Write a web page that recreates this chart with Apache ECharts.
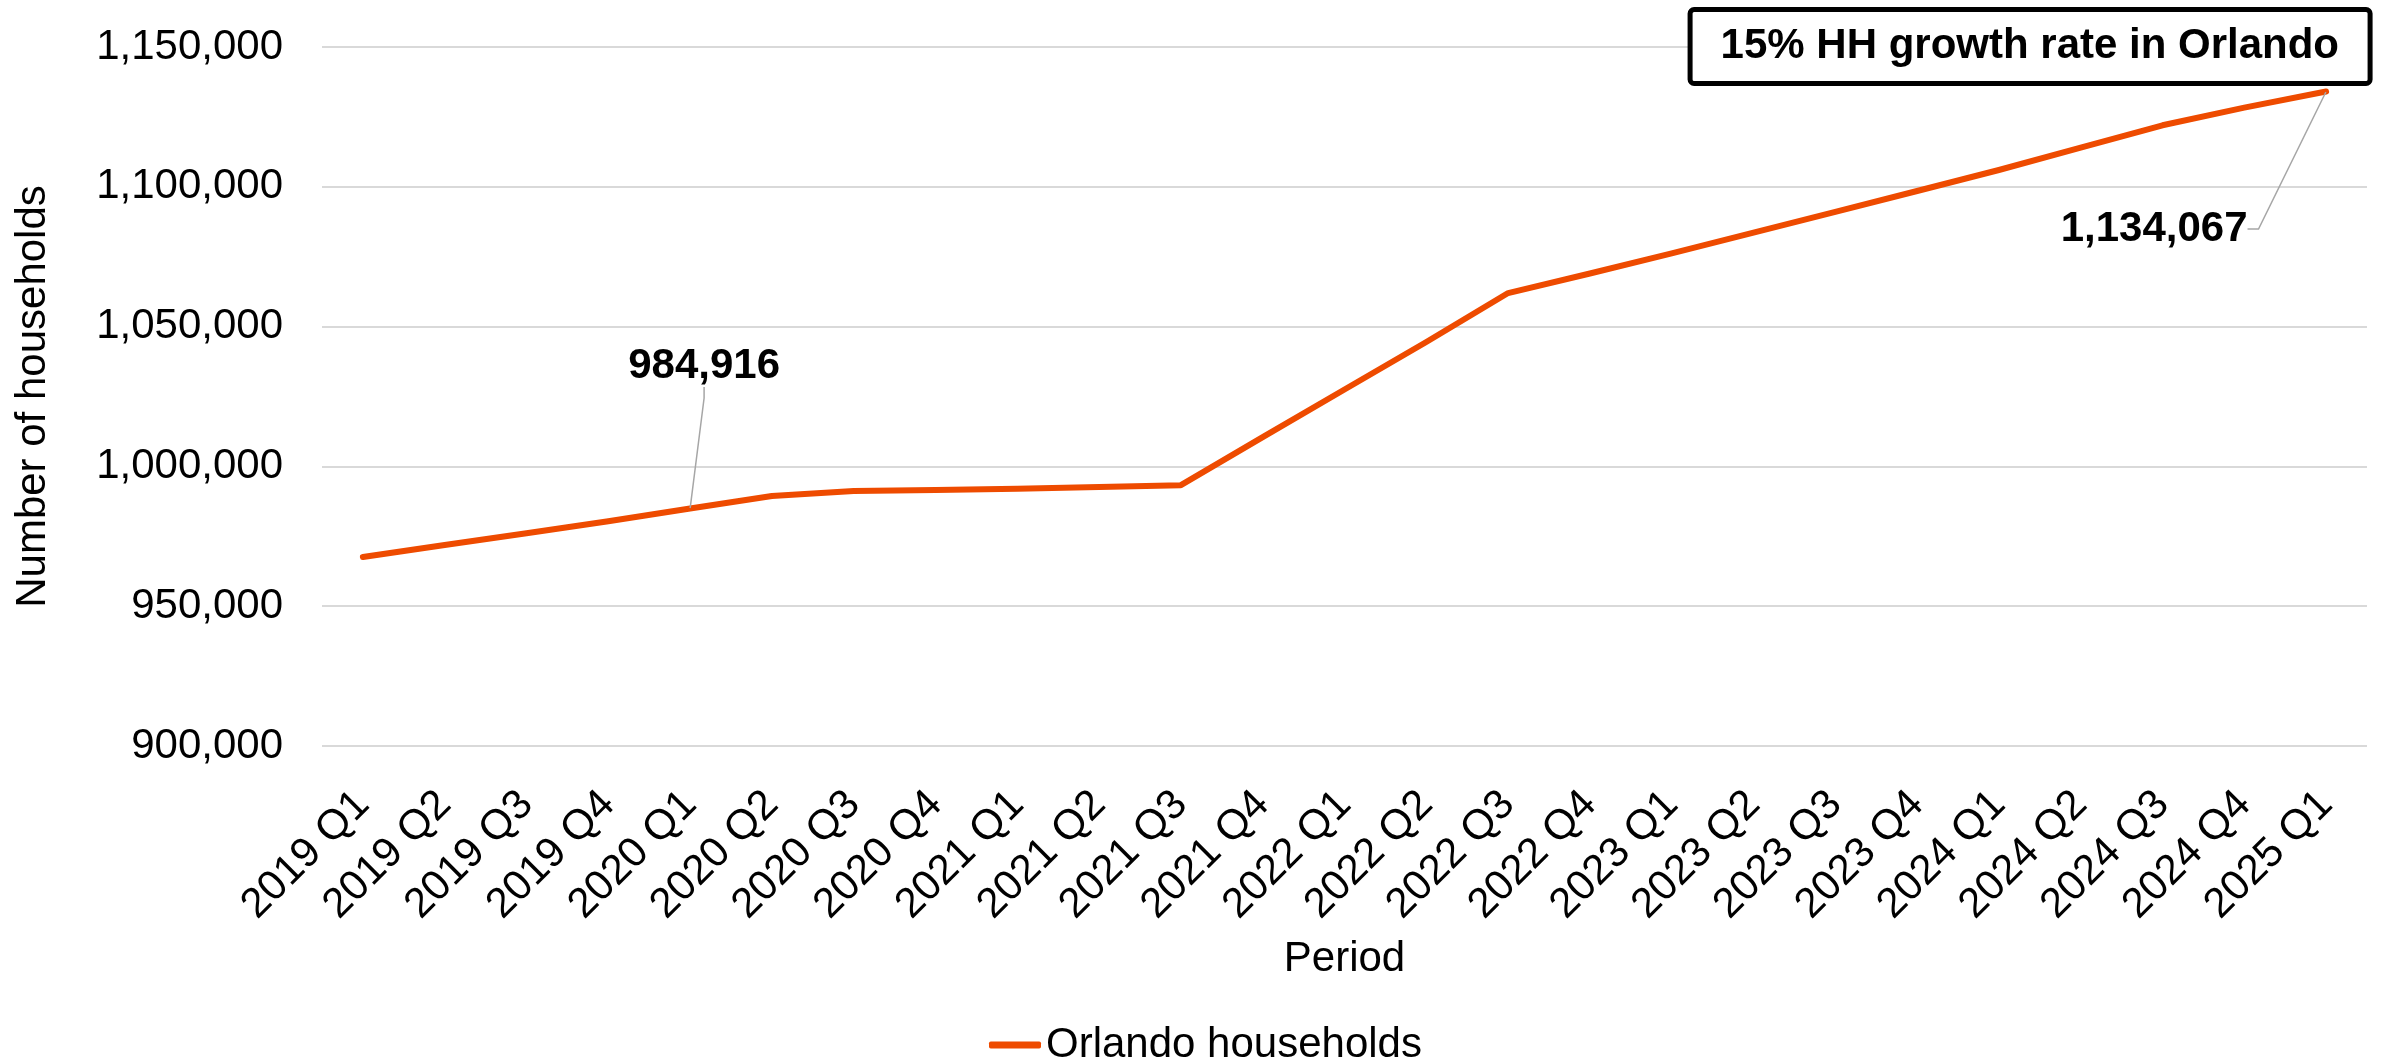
<!DOCTYPE html>
<html>
<head>
<meta charset="utf-8">
<title>Orlando households</title>
<script src="https://cdn.jsdelivr.net/npm/echarts@6/dist/echarts.min.js"></script>
<style>
  html, body { margin: 0; padding: 0; background: #fff; }
  #chart { width: 2392px; height: 1061px; }
</style>
</head>
<body>
<div id="chart"></div>
<script>
// Quarterly household counts for Orlando
const periods = [
  '2019 Q1', '2019 Q2', '2019 Q3', '2019 Q4',
  '2020 Q1', '2020 Q2', '2020 Q3', '2020 Q4',
  '2021 Q1', '2021 Q2', '2021 Q3', '2021 Q4',
  '2022 Q1', '2022 Q2', '2022 Q3', '2022 Q4',
  '2023 Q1', '2023 Q2', '2023 Q3', '2023 Q4',
  '2024 Q1', '2024 Q2', '2024 Q3', '2024 Q4',
  '2025 Q1'
];
const households = [
  967600, 971900, 976100, 980400,
  984916, 989400, 991200, 991600,
  992000, 992600, 993300, 1010500,
  1027500, 1044500, 1062000, 1069000,
  1076200, 1083600, 1091000, 1098500,
  1106000, 1114000, 1122000, 1128300,
  1134067
];
// Points whose value is called out on the chart
const calloutIndices = [4, 24];
const yTicks = { min: 900000, max: 1150000, step: 50000 };
const seriesName = 'Orlando households';
const headline = '15% HH growth rate in Orlando';

const FONT = '"Liberation Sans", Arial, Helvetica, sans-serif';
const LINE_COLOR = '#EE4B00';
const fmt = v => Number(v).toLocaleString('en-US');

// Offsets that move each callout label away from its point
const calloutShift = { 4: { dx: 14, dy: -116 }, 24: { dx: -172, dy: 164 } };

const seriesData = households.map((v, i) => {
  const item = { value: v };
  if (calloutIndices.includes(i)) {
    item.label = { show: true };
  }
  return item;
});

const chart = echarts.init(document.getElementById('chart'), null, { renderer: 'canvas' });

chart.setOption({
  backgroundColor: '#ffffff',
  animation: false,
  textStyle: { fontFamily: FONT },
  title: {
    text: headline,
    right: 22,
    top: 9,
    padding: [14, 31],
    borderColor: '#000000',
    borderWidth: 5,
    borderRadius: 4,
    backgroundColor: '#ffffff',
    textStyle: {
      fontFamily: FONT,
      fontSize: 42,
      fontWeight: 'bold',
      color: '#000000',
      lineHeight: 47
    }
  },
  legend: {
    data: [seriesName],
    left: 984,
    top: 1019,
    icon: 'roundRect',
    itemWidth: 52,
    itemHeight: 7,
    textStyle: { fontFamily: FONT, fontSize: 42, color: '#000000' }
  },
  grid: {
    left: 322,
    right: 25,
    top: 47,
    bottom: 315,
    containLabel: false
  },
  xAxis: {
    type: 'category',
    data: periods,
    boundaryGap: true,
    name: 'Period',
    nameLocation: 'middle',
    nameGap: 192,
    nameTextStyle: { fontFamily: FONT, fontSize: 42, color: '#000000' },
    axisLine: { show: false },
    axisTick: { show: false },
    axisLabel: {
      rotate: 45,
      interval: 0,
      margin: 52,
      fontFamily: FONT,
      fontSize: 42,
      color: '#000000'
    },
    splitLine: { show: false }
  },
  yAxis: {
    type: 'value',
    min: yTicks.min,
    max: yTicks.max,
    interval: yTicks.step,
    name: 'Number of households',
    nameLocation: 'middle',
    nameGap: 268,
    nameTextStyle: { fontFamily: FONT, fontSize: 42, color: '#000000' },
    axisLine: { show: false },
    axisTick: { show: false },
    axisLabel: {
      margin: 39,
      fontFamily: FONT,
      fontSize: 42,
      color: '#000000',
      formatter: v => fmt(v)
    },
    splitLine: { show: true, lineStyle: { color: '#D9D9D9', width: 2 } }
  },
  series: [{
    name: seriesName,
    type: 'line',
    data: seriesData,
    showSymbol: true,
    symbol: 'circle',
    symbolSize: 1,
    itemStyle: { color: LINE_COLOR },
    lineStyle: { color: LINE_COLOR, width: 6, cap: 'round', join: 'round' },
    label: {
      show: false,
      position: 'top',
      fontFamily: FONT,
      fontSize: 42,
      fontWeight: 'bold',
      color: '#000000',
      formatter: p => fmt(p.value)
    },
    labelLine: {
      show: true,
      length2: 11,
      lineStyle: { color: '#A6A6A6', width: 1.5 }
    },
    labelLayout: params => calloutShift[params.dataIndex] || {}
  }]
});
</script>
</body>
</html>
